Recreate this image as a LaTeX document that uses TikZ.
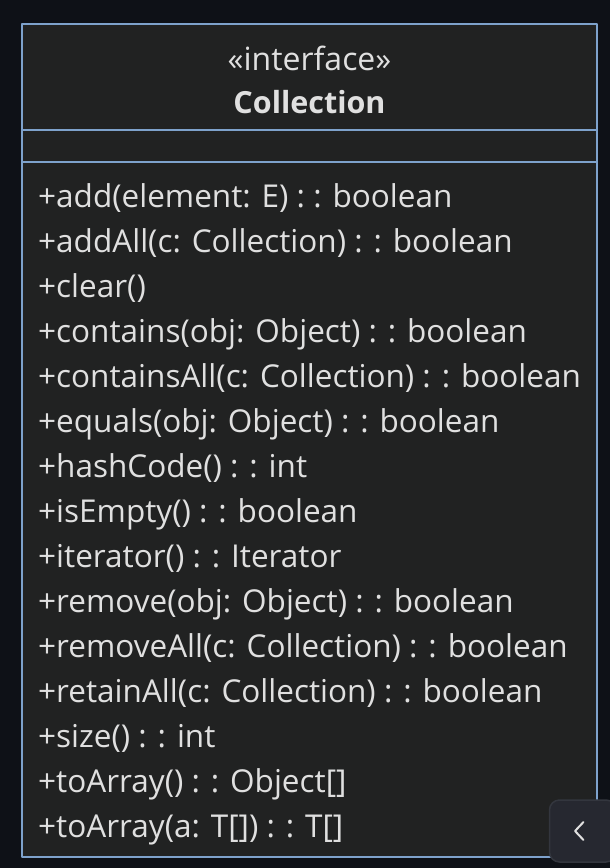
\documentclass[tikz,border=0pt]{standalone}
\usepackage{fontspec}
\setmainfont{Open Sans}
\usetikzlibrary{positioning}

\definecolor{pagebg}{HTML}{0E1117}
\definecolor{boxfill}{HTML}{212222}
\definecolor{umlblue}{HTML}{7EA2CC}
\definecolor{textgray}{HTML}{E0E0E0}
\definecolor{btnfill}{HTML}{262830}
\definecolor{btnedge}{HTML}{33363E}

\begin{document}
\begin{tikzpicture}[
        x = 1pt, y = -1pt,
        line join=round,
        classbox/.style = {draw=umlblue, line width=2pt, fill=boxfill},
        divider/.style = {draw=umlblue, line width=2pt},
        member/.style = {anchor=base west, inner sep=0pt, text=textgray, font=\fontsize{31.5}{36}\selectfont},
        title/.style = {anchor=base, inner sep=0pt, text=textgray, font=\fontsize{32}{36}\selectfont}
    ]
        \fill[pagebg] (0,0) rectangle (610,868);
        \useasboundingbox (0,0) rectangle (610,868);

        \coordinate (tl) at (22,24);
        \coordinate (br) at (597,857);

        % class box
        \draw[classbox] (tl) rectangle (br);
        \draw[divider] (22,130) -- (597,130);
        \draw[divider] (22,162) -- (597,162);

        % header
        \node[title] (stereo) at (309.5,70.5) {«interface»};
        \node[title, font=\fontsize{30.5}{36}\selectfont\bfseries] (name) at (309.5,113.5) {Collection};

        % operations
        \node[member] (m1)  at (38,207) {+add(element: E) : : boolean};
        \node[member] (m2)  at (38,252) {+addAll(c: Collection) : : boolean};
        \node[member] (m3)  at (38,297) {+clear()};
        \node[member] (m4)  at (38,342) {+contains(obj: Object) : : boolean};
        \node[member] (m5)  at (38,387) {+containsAll(c: Collection) : : boolean};
        \node[member] (m6)  at (38,432) {+equals(obj: Object) : : boolean};
        \node[member] (m7)  at (38,477) {+hashCode() : : int};
        \node[member] (m8)  at (38,522) {+isEmpty() : : boolean};
        \node[member] (m9)  at (38,567) {+iterator() : : Iterator};
        \node[member] (m10) at (38,612) {+remove(obj: Object) : : boolean};
        \node[member] (m11) at (38,657) {+removeAll(c: Collection) : : boolean};
        \node[member] (m12) at (38,702) {+retainAll(c: Collection) : : boolean};
        \node[member] (m13) at (38,747) {+size() : : int};
        \node[member] (m14) at (38,792) {+toArray() : : Object[]};
        \node[member] (m15) at (38,837) {+toArray(a: T[]) : : T[]};

        % collapse button
        \draw[fill=btnfill, draw=btnedge, line width=1.5pt, rounded corners=10pt] (549.5,800) rectangle (616,862);
        \draw[textgray, line width=2pt, line cap=round] (583.5,822) -- (575,831) -- (583.5,840);

    \end{tikzpicture}
\end{document}
